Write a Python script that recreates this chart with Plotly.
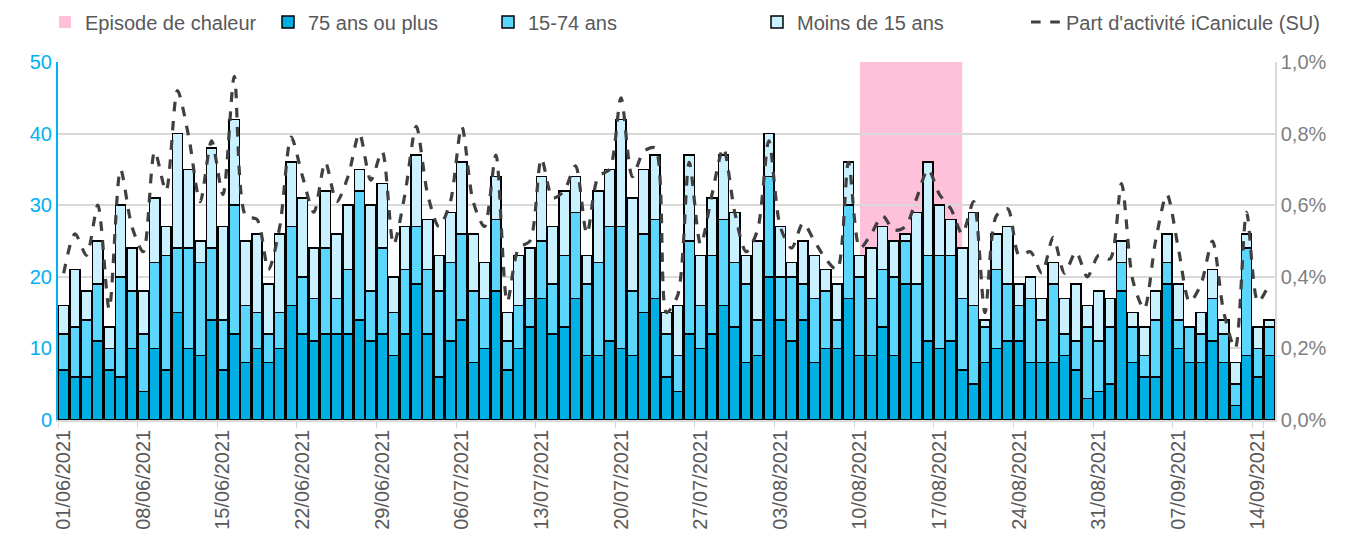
import pandas as pd
import plotly.graph_objects as go

# ---- data -----------------------------------------------------------------
dates = [d.strftime("%d/%m/%Y") for d in pd.date_range("2021-06-01", "2021-09-15", freq="D")]

age_75_plus = [7, 6, 6, 11, 7, 6, 10, 4, 10, 7, 15, 10, 9, 14, 7, 12, 8, 10, 8, 10,
               16, 12, 11, 12, 12, 12, 14, 11, 12, 9, 12, 19, 12, 6, 11, 14, 8, 10, 18, 7,
               10, 13, 17, 12, 13, 17, 9, 9, 11, 10, 9, 15, 17, 6, 4, 12, 10, 12, 16, 13,
               8, 9, 20, 14, 11, 14, 8, 10, 10, 17, 9, 9, 13, 9, 19, 8, 11, 10, 11, 7,
               5, 8, 10, 11, 11, 8, 8, 8, 9, 7, 3, 4, 5, 18, 8, 6, 6, 19, 10, 8,
               8, 11, 8, 2, 9, 6, 9]
age_15_74 = [5, 7, 8, 8, 3, 14, 8, 8, 12, 16, 9, 14, 13, 10, 7, 18, 8, 5, 4, 5,
             11, 8, 6, 12, 5, 9, 18, 7, 12, 6, 9, 8, 9, 12, 11, 12, 10, 7, 10, 4,
             6, 4, 8, 7, 10, 12, 10, 13, 16, 17, 9, 11, 11, 6, 5, 13, 6, 11, 12, 9,
             11, 5, 14, 6, 9, 5, 9, 8, 4, 13, 11, 8, 8, 11, 6, 11, 12, 13, 12, 10,
             11, 5, 11, 8, 5, 9, 6, 11, 3, 4, 10, 7, 8, 4, 5, 3, 8, 3, 4, 5,
             4, 6, 4, 3, 15, 4, 4]
age_under_15 = [4, 8, 4, 6, 3, 10, 6, 6, 9, 4, 16, 11, 3, 14, 13, 12, 9, 11, 7, 11,
                9, 11, 7, 8, 9, 9, 3, 12, 9, 5, 6, 10, 7, 5, 7, 10, 8, 5, 6, 4,
                7, 7, 9, 8, 9, 5, 4, 10, 8, 15, 13, 9, 9, 3, 7, 12, 7, 8, 9, 7,
                4, 11, 6, 7, 2, 6, 6, 3, 5, 6, 3, 7, 6, 5, 1, 10, 13, 7, 5, 7,
                13, 1, 5, 8, 3, 3, 3, 3, 5, 8, 3, 7, 4, 3, 2, 4, 4, 4, 5, 0,
                3, 4, 2, 3, 2, 3, 1]
# share of iCanicule activity (SU), in percent
share_pct = [0.41, 0.52, 0.46, 0.60, 0.31, 0.70, 0.54, 0.47, 0.75, 0.64, 0.92, 0.79, 0.61, 0.78, 0.63, 0.96, 0.57, 0.56, 0.42, 0.54,
             0.79, 0.68, 0.58, 0.72, 0.61, 0.68, 0.80, 0.67, 0.75, 0.49, 0.63, 0.82, 0.63, 0.54, 0.61, 0.82, 0.61, 0.54, 0.74, 0.33,
             0.48, 0.50, 0.73, 0.62, 0.64, 0.71, 0.52, 0.68, 0.70, 0.90, 0.68, 0.75, 0.76, 0.30, 0.35, 0.72, 0.49, 0.63, 0.76, 0.58,
             0.47, 0.53, 0.78, 0.54, 0.48, 0.55, 0.50, 0.45, 0.42, 0.72, 0.48, 0.52, 0.57, 0.53, 0.54, 0.62, 0.70, 0.63, 0.59, 0.52,
             0.61, 0.30, 0.57, 0.59, 0.46, 0.47, 0.41, 0.51, 0.41, 0.47, 0.40, 0.46, 0.45, 0.66, 0.39, 0.31, 0.50, 0.63, 0.48, 0.33,
             0.38, 0.50, 0.30, 0.20, 0.58, 0.33, 0.38]
heat_start = "10/08/2021"
heat_end = "19/08/2021"
tick_labels = dates[::7]

# ---- styles ---------------------------------------------------------------
C_DARK = "#00B0E4"
C_MED = "#5AD6FF"
C_LIGHT = "#C9F1FF"
C_PINK = "#FFC0D9"
C_LINE = "#404040"
FONT = "Liberation Sans, Arial, sans-serif"
W, H = 1345, 539

fig = go.Figure()
for name, vals, col, lg in [("75 ans ou plus", age_75_plus, C_DARK, "legend2"),
                            ("15-74 ans", age_15_74, C_MED, "legend3"),
                            ("Moins de 15 ans", age_under_15, C_LIGHT, "legend4")]:
    fig.add_trace(go.Bar(x=dates, y=vals, name=name, legend=lg,
                         marker=dict(color=col, line=dict(color="black", width=1.5))))
fig.add_trace(go.Scatter(x=dates, y=[v / 100 for v in share_pct], yaxis="y2",
                         name="Part d'activité iCanicule (SU)", mode="lines", legend="legend5",
                         line=dict(color=C_LINE, width=3.2, dash="dash", shape="spline", smoothing=0.8)))

fig.add_shape(type="rect", xref="x", yref="y", x0=heat_start, x1=heat_end, y0=0, y1=50,
              fillcolor=C_PINK, line=dict(width=0), layer="below",
              showlegend=True, name="Episode de chaleur", legend="legend")


def legend_at(px):
    return dict(orientation="h", xref="container", yref="container", x=px / W, xanchor="left",
                y=1 - 22 / H, yanchor="middle", font=dict(size=20, color="#595959"),
                bgcolor="rgba(0,0,0,0)")


fig.update_layout(
    width=W, height=H,
    template="none",
    showlegend=True,
    paper_bgcolor="white", plot_bgcolor="white",
    separators=", ",
    barmode="stack", bargap=0.1,
    margin=dict(l=58, r=70, t=62, b=119),
    font=dict(family=FONT, size=20, color="#595959"),
    legend=legend_at(45), legend2=legend_at(268), legend3=legend_at(488),
    legend4=legend_at(757), legend5=legend_at(1026),
    xaxis=dict(type="category", tickmode="array", tickvals=tick_labels, ticktext=tick_labels,
               tickangle=-90, tickson="boundaries", ticks="outside", ticklen=6, tickcolor="#D9D9D9",
               tickfont=dict(size=20, color="#595959"), showgrid=False, showline=True,
               linecolor="#D9D9D9", linewidth=1.5, automargin=False, zeroline=False),
    yaxis=dict(range=[0, 50], dtick=10, showgrid=True, gridcolor="#D9D9D9", gridwidth=1.5,
               showline=True, linecolor="#00B0F0", linewidth=2, ticks="",
               tickfont=dict(size=20, color="#00B0F0"), zeroline=False, automargin=False),
    yaxis2=dict(range=[0, 0.01], dtick=0.002, tickformat=".1%", overlaying="y", side="right",
                showgrid=False, showline=True, linecolor="#D9D9D9", linewidth=1.5, ticks="",
                tickfont=dict(size=20, color="#7F7F7F"), zeroline=False, automargin=False),
)

fig.write_html("out.html", config={"displayModeBar": False},
               post_script="document.body.style.margin='0';")
